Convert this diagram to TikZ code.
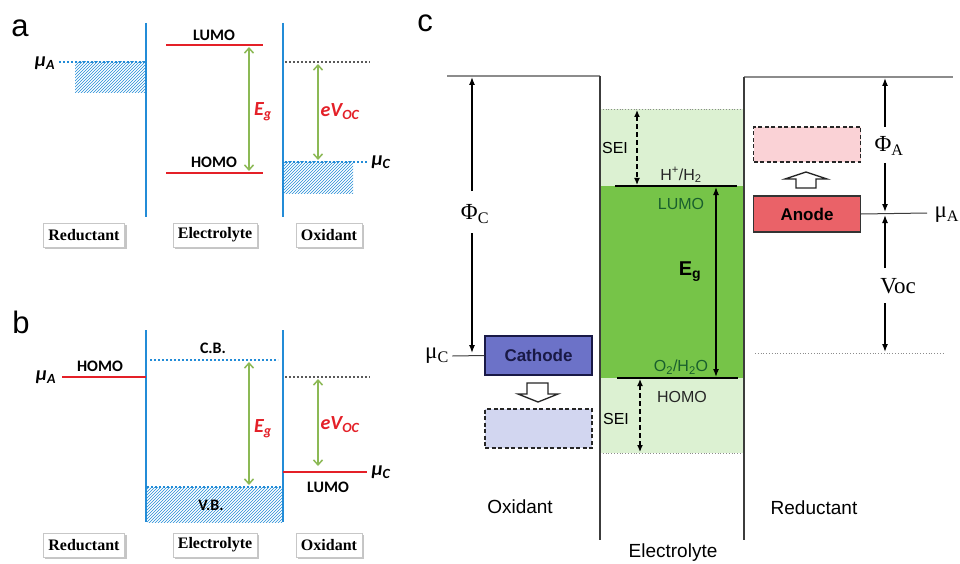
\documentclass[tikz,border=0pt]{standalone}
\usepackage{fontspec}
\setmainfont{Liberation Serif}
\newfontfamily\arialfont{Liberation Sans}
\newfontfamily\calfont{Carlito}
\usepackage{tikz}
\usetikzlibrary{positioning,arrows.meta,patterns,shadows,calc}
\usepackage{xcolor}
\definecolor{bandblue}{RGB}{35,140,215}
\definecolor{levelred}{RGB}{228,32,40}
\definecolor{gapgreen}{RGB}{140,185,85}
\definecolor{seigreen}{RGB}{220,241,210}
\definecolor{bulkgreen}{RGB}{118,196,72}
\definecolor{labelgreen}{RGB}{25,95,45}
\definecolor{cathodeblue}{RGB}{108,114,200}
\definecolor{cathodeink}{RGB}{25,25,70}
\definecolor{cathodepale}{RGB}{210,214,240}
\definecolor{anodered}{RGB}{234,98,104}
\definecolor{anodepale}{RGB}{250,210,214}
\definecolor{wallgray}{RGB}{60,60,60}
\definecolor{rulegray}{RGB}{140,140,140}

\tikzset{
  bluewall/.style={bandblue,line width=2.6pt},
  redlevel/.style={levelred,line width=2.6pt},
  bluedots/.style={bandblue,line width=2.2pt,dash pattern=on 2pt off 2pt},
  darkdots/.style={black!65,line width=2.2pt,dash pattern=on 2pt off 2pt},
  hatchfill/.style={pattern=north east lines,pattern color=bandblue},
  gaparrow/.style={gapgreen,line width=1.5pt,
    {Straight Barb[length=5pt,width=9pt]}-{Straight Barb[length=5pt,width=9pt]}},
  levtext/.style={font=\calfont\bfseries\fontsize{16}{18}\selectfont},
  mutext/.style={font=\calfont\bfseries\itshape\fontsize{20}{22}\selectfont},
  gaptext/.style={levelred,font=\calfont\bfseries\itshape\fontsize{20}{22}\selectfont},
  sidetag/.style={draw=black!22,fill=white,line width=0.6pt,
    font=\bfseries\fontsize{16}{18}\selectfont,inner xsep=5pt,minimum height=24pt,
    drop shadow={shadow xshift=2pt,shadow yshift=-2pt,fill=black!45}},
  paneltag/.style={font=\arialfont\fontsize{31}{33}\selectfont,anchor=base},
  cwall/.style={wallgray,line width=1.5pt},
  crule/.style={rulegray,line width=1.2pt},
  ctext/.style={font=\arialfont\fontsize{16}{18}\selectfont},
  sidename/.style={font=\arialfont\fontsize{19}{21}\selectfont},
  serifsym/.style={font=\fontsize{23}{25}\selectfont},
  blackarrow/.style={line width=1.3pt,-{Latex[length=8pt,width=6pt]}},
  seiarrow/.style={line width=1.3pt,dash pattern=on 5pt off 3pt,
    {Latex[length=7pt,width=6pt]}-{Latex[length=7pt,width=6pt]}},
  electrode/.style={draw,line width=1.2pt,minimum width=107pt,
    font=\arialfont\bfseries\fontsize{17}{19}\selectfont},
  ghost/.style={draw=black!85,line width=1.3pt,dash pattern=on 4pt off 2.5pt,
    minimum width=107pt},
  hollow/.style={draw=black!85,fill=white,line width=1.3pt,line join=miter}
}

\begin{document}
\begin{tikzpicture}[x=1pt,y=-1pt]
\useasboundingbox (0,0) rectangle (960,564);
\fill[white] (0,0) rectangle (960,564);

% ---------- panel a ----------
\node[paneltag] (taga) at (20,37) {a};
\fill[hatchfill] (75,62) rectangle (146,93);
\fill[hatchfill] (284,162) rectangle (353,193);
\coordinate (aMuAl) at (59,62);   \coordinate (aMuAr) at (146,62);
\coordinate (aLumoL) at (166,45); \coordinate (aLumoR) at (263,45);
\coordinate (aHomoL) at (166,173);\coordinate (aHomoR) at (263,173);
\coordinate (aOxL) at (285,62);   \coordinate (aOxR) at (370,62);
\coordinate (aMuCl) at (285,162); \coordinate (aMuCr) at (367,162);
\draw[bluedots] (aMuAl) -- (aMuAr);
\draw[bluedots] (aMuCl) -- (aMuCr);
\draw[darkdots] (aOxL) -- (aOxR);
\draw[bluewall] (146,23) coordinate (aW1t) -- (146,217) coordinate (aW1b);
\draw[bluewall] (283,23) coordinate (aW2t) -- (283,217) coordinate (aW2b);
\draw[redlevel] (aLumoL) -- (aLumoR);
\draw[redlevel] (aHomoL) -- (aHomoR);
\node[levtext] (aLumo) at (214,35) {LUMO};
\node[levtext] (aHomo) at (214,162) {HOMO};
\node[mutext] (aMuA) at (45,63) {μ\textsubscript{A}};
\node[mutext] (aMuC) at (381,162) {μ\textsubscript{C}};
\draw[gaparrow] (249,171) coordinate (aEgB) -- (249,47) coordinate (aEgT);
\draw[gaparrow] (318,160) coordinate (aVB) -- (318,64) coordinate (aVT);
\node[gaptext] (aEg) at (263,112) {E\textsubscript{g}};
\node[gaptext] (aVoc) at (340,112) {eV\textsubscript{OC}};
\node[sidetag] (aRed) at (84,235) {Reductant};
\node[sidetag] (aEle) at (215,235) {Electrolyte};
\node[sidetag] (aOx) at (329,235) {Oxidant};

% ---------- panel b ----------
\node[paneltag] (tagb) at (21,333) {b};
\fill[hatchfill] (147,487) rectangle (282,522);
\coordinate (bMuAl) at (62,377);  \coordinate (bMuAr) at (146,377);
\coordinate (bCbL) at (150,360);  \coordinate (bCbR) at (278,360);
\coordinate (bOxL) at (285,377);  \coordinate (bOxR) at (370,377);
\coordinate (bLumoL) at (283,472);\coordinate (bLumoR) at (367,472);
\coordinate (bVbL) at (147,487);  \coordinate (bVbR) at (282,487);
\draw[bluedots] (bCbL) -- (bCbR);
\draw[bluedots] (bVbL) -- (bVbR);
\draw[darkdots] (bOxL) -- (bOxR);
\draw[bluewall] (146,330) -- (146,522);
\draw[bluewall] (283,330) -- (283,522);
\draw[redlevel] (bMuAl) -- (bMuAr);
\draw[redlevel] (bLumoL) -- (bLumoR);
\node[mutext] (bMuA) at (46,377) {μ\textsubscript{A}};
\node[levtext] (bHomo) at (100,366) {HOMO};
\node[levtext] (bCb) at (213,348) {C.B.};
\node[levtext] (bVb) at (211,505) {V.B.};
\node[levtext] (bLumo) at (328,487) {LUMO};
\node[mutext] (bMuC) at (381,472) {μ\textsubscript{C}};
\draw[gaparrow] (249,485) -- (249,362);
\draw[gaparrow] (318,466) -- (318,379);
\node[gaptext] (bEg) at (263,429) {E\textsubscript{g}};
\node[gaptext] (bVoc) at (340,425) {eV\textsubscript{OC}};
\node[sidetag] (bRed) at (84,545) {Reductant};
\node[sidetag] (bEle) at (215,545) {Electrolyte};
\node[sidetag] (bOx) at (329,545) {Oxidant};

% ---------- panel c ----------
\node[paneltag] (tagc) at (425,32) {c};
\fill[seigreen] (600,109) rectangle (744,453);
\fill[bulkgreen] (600,186) rectangle (744,378);
\draw[rulegray,line width=0.8pt,dotted] (600,109) -- (744,109);
\draw[rulegray,line width=0.8pt,dotted] (600,453) -- (744,453);
\draw[crule] (447,76) coordinate (cTopL) -- (600,76);
\draw[crule] (744,77) -- (953,77) coordinate (cTopR);
\draw[cwall] (600,76) -- (600,540);
\draw[cwall] (744,77) -- (744,540);
\draw[line width=1.3pt] (615,186) coordinate (cHl) -- (737,186) coordinate (cHr);
\draw[line width=1.3pt] (617,378) coordinate (cOl) -- (738,378) coordinate (cOr);
\node[ctext,black!85] (cHH) at (681,175) {H\textsuperscript{+}/H\textsubscript{2}};
\node[ctext,labelgreen] (cLumo) at (681,204) {LUMO};
\node[ctext,labelgreen] (cOO) at (681,367) {O\textsubscript{2}/H\textsubscript{2}O};
\node[ctext,black!85] (cHomo) at (682,397) {HOMO};
\node[font=\arialfont\bfseries\fontsize{20}{22}\selectfont] (cEg) at (690,272) {E\textsubscript{g}};
\draw[line width=1.3pt,{Latex[length=8pt,width=6pt]}-{Latex[length=8pt,width=6pt]}]
  (716,187) -- (716,377);
\node[ctext] (cSeiT) at (615,148) {SEI};
\node[ctext] (cSeiB) at (616,419) {SEI};
\draw[seiarrow] (637,110) -- (637,185);
\draw[seiarrow] (640,379) -- (640,452);

% cathode side
\node[electrode,fill=cathodeblue,draw=cathodeink,text=cathodeink,minimum height=39pt]
  (cathode) at (538.5,355.5) {Cathode};
\node[ghost,fill=cathodepale,minimum height=39pt] (cathodeghost) at (538.5,428.5) {};
\draw[hollow,shift={(538,383)}] (-11,0) -- (10,0) -- (10,11) -- (20,11) -- (0,19)
  -- (-20,11) -- (-11,11) -- cycle;
\node[serifsym] (muC) at (437,356) {μ\textsubscript{C}};
\draw[line width=1pt,wallgray] (muC.east) -- (cathode.west);
\node[serifsym] (phiC) at (475,214) {Φ\textsubscript{C}};
\draw[blackarrow] (472,191) -- (472,77);
\draw[blackarrow] (472,233) -- (472,353);

% anode side
\node[electrode,fill=anodered,draw=black!80,minimum height=36pt]
  (anode) at (807,214) {Anode};
\node[ghost,fill=anodepale,minimum height=35pt] (anodeghost) at (807,144.5) {};
\draw[hollow,shift={(806,172)}] (-10,16) -- (10,16) -- (10,7) -- (21,7) -- (0,0)
  -- (-21,7) -- (-10,7) -- cycle;
\coordinate (muAend) at (927,213);
\draw[line width=1pt,wallgray] (anode.east) -- (muAend);
\node[serifsym,anchor=west] (muA) at (931,215) {μ\textsubscript{A}};
\node[serifsym] (phiA) at (889,146) {Φ\textsubscript{A}};
\draw[blackarrow] (885,127) -- (885,78);
\draw[blackarrow] (885,163) -- (885,212);
\node[serifsym] (voc) at (898,286) {Voc};
\draw[blackarrow] (885,268) -- (885,215);
\draw[blackarrow] (885,303) -- (885,352);
\draw[rulegray,line width=0.8pt,dotted] (755,353) coordinate (cDotL) -- (943,353) coordinate (cDotR);

\node[sidename] (cOx) at (520,507) {Oxidant};
\node[sidename] (cRed) at (814,508) {Reductant};
\node[sidename] (cEle) at (673,553) {Electrolyte};
\end{tikzpicture}
\end{document}
